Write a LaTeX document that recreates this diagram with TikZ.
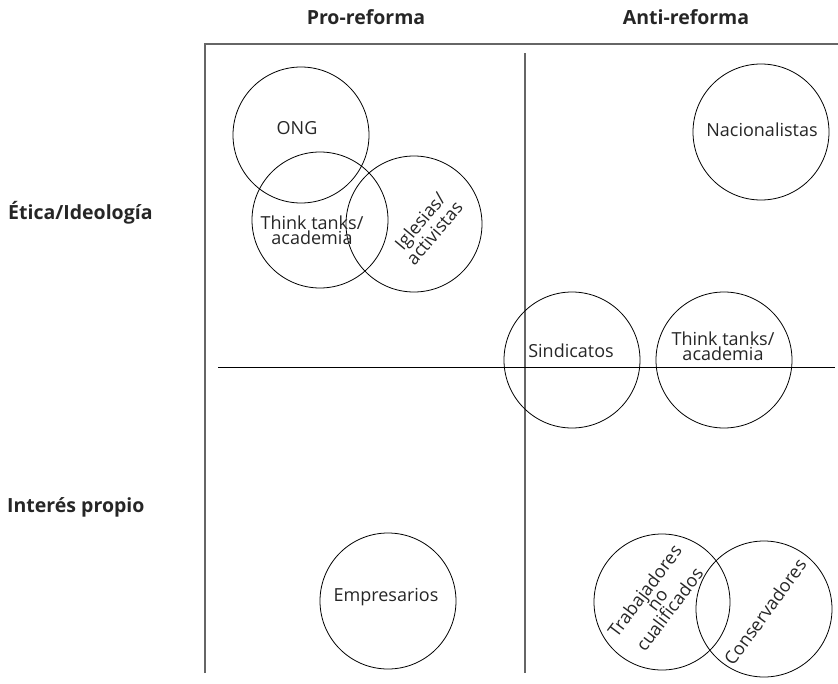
\documentclass[tikz,border=0pt]{standalone}
\usepackage{fontspec}
\setmainfont{Open Sans}
\definecolor{framegrey}{HTML}{666666}
\usetikzlibrary{positioning}

\begin{document}
\begin{tikzpicture}[
  x=1pt, y=-1pt,
  group/.style={circle, draw=black, line width=0.8pt,
    minimum size=136pt, inner sep=0pt},
  tag/.style={font=\fontsize{18}{15.5}\selectfont, align=center,
    inner sep=0pt, text=black!85},
  axislabel/.style={font=\bfseries\fontsize{19.5}{22}\selectfont,
    inner sep=0pt, text=black!85},
  frameline/.style={draw=framegrey, line width=1.6pt},
  divider/.style={draw=black, line width=0.9pt}
]
  \useasboundingbox (0,0) rectangle (838,683);

  % frame and quadrants
  \draw[frameline] (205,673) -- (205,44) -- (838,44);
  \draw[frameline] (525,53) -- (525,673);
  \draw[divider] (218,367) -- (835,367);

  % column and row headings
  \node[axislabel] (pro) at (366,17) {Pro-reforma};
  \node[axislabel] (anti) at (686,17) {Anti-reforma};
  \node[axislabel, anchor=west] (etica) at (8,213) {Ética/Ideología};
  \node[axislabel, anchor=west] (interes) at (7,507) {Interés propio};

  % groups
  \node[group] (ong) at (301,135) {};
  \node[group] (ttleft) at (320,220) {};
  \node[group] (iglesias) at (414,224) {};
  \node[group] (nacion) at (761,132) {};
  \node[group] (sindic) at (572,360) {};
  \node[group] (ttright) at (724,360) {};
  \node[group] (empres) at (388,601) {};
  \node[group] (trabaj) at (662,602) {};
  \node[group] (conserv) at (764,609) {};

  % group names
  \node[tag] (ongtxt) at (297,128) {ONG};
  \node[tag] (ttlefttxt) at (312,230) {Think tanks/\\academia};
  \node[tag, rotate=50] (iglesiastxt) at (427,227) {Iglesias/\\activistas};
  \node[tag] (naciontxt) at (762,130) {Nacionalistas};
  \node[tag] (sindictxt) at (571,351) {Sindicatos};
  \node[tag] (ttrighttxt) at (723,346) {Think tanks/\\academia};
  \node[tag] (emprestxt) at (386,597) {Empresarios};
  \node[tag, rotate=53] (trabajtxt) at (657,600) {Trabajadores\\no\\cualificados};
  \node[tag, rotate=54] (conservtxt) at (765,612) {Conservadores};
\end{tikzpicture}
\end{document}
